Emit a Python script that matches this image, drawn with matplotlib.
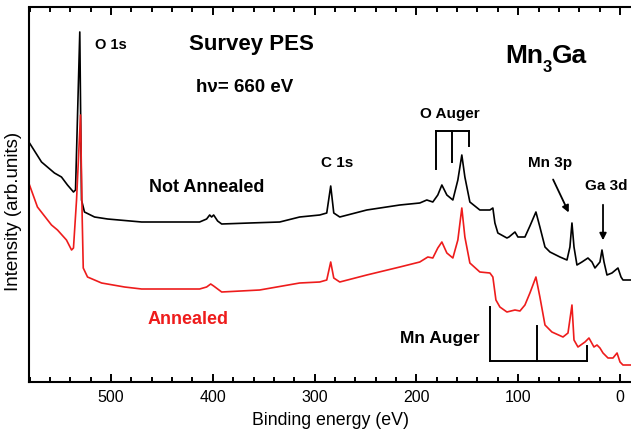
import matplotlib
matplotlib.use("Agg")
import matplotlib.pyplot as plt
from matplotlib.ticker import MultipleLocator

plt.rcParams['font.family'] = ['Liberation Sans', 'DejaVu Sans']

# Not Annealed (black)
energy_na = [580.1, 568.3, 555.6, 548.7, 542.8, 536.9, 534.9, 530.7, 529.0, 526.1,
             516.2, 503.4, 470.0, 413.0, 406.1, 403.1, 401.2, 399.2, 395.3, 391.3,
             363.8, 334.3, 314.7, 295.0, 288.1, 284.2, 281.2, 275.3, 248.8, 216.3,
             196.7, 189.8, 183.9, 179.0, 175.0, 170.1, 164.2, 159.3, 155.4, 152.4,
             147.5, 137.7, 127.8, 124.9, 122.9, 120.0, 111.1, 109.1, 103.2, 100.3,
             93.4, 88.5, 82.6, 78.7, 73.7, 68.8, 59.0, 52.1, 49.2, 47.2,
             45.2, 42.3, 37.4, 31.5, 27.5, 24.6, 19.7, 17.7, 15.7, 12.8,
             7.9, 2.0, -1.0, -2.9, -10.8]
intensity_na = [238, 219, 208, 204, 196, 189, 191, 349, 181, 169,
                164, 162, 159, 159, 162, 166, 164, 166, 160, 157,
                158, 159, 164, 166, 168, 195, 168, 164, 171, 176,
                178, 181, 179, 186, 196, 186, 181, 201, 226, 204,
                179, 171, 171, 173, 158, 148, 143, 144, 149, 144,
                144, 155, 169, 154, 134, 129, 124, 121, 134, 158,
                134, 116, 119, 123, 119, 113, 119, 131, 119, 106,
                108, 113, 104, 101, 101]

# Annealed (red)
energy_an = [580.1, 572.3, 558.5, 552.6, 543.8, 538.8, 536.9, 533.9, 530.0, 528.3,
             527.3, 523.1, 509.3, 486.7, 470.0, 413.0, 406.1, 402.1, 399.2, 391.3,
             354.0, 314.7, 295.0, 288.1, 284.2, 281.2, 275.3, 248.8, 216.3, 196.7,
             188.8, 183.9, 179.0, 175.0, 170.1, 164.2, 159.3, 155.4, 152.4, 147.5,
             137.7, 127.8, 124.9, 121.9, 118.0, 111.1, 103.2, 98.3, 93.4, 88.5,
             82.6, 78.7, 73.7, 66.9, 56.0, 51.1, 47.2, 45.2, 41.3, 34.4,
             30.5, 25.6, 22.6, 19.7, 16.7, 11.8, 6.9, 2.9, 0.0, -2.9, -10.8]
intensity_an = [196, 174, 156, 151, 141, 131, 133, 181, 266, 161,
                113, 104, 98, 94, 92, 92, 94, 97, 95, 89,
                91, 98, 99, 101, 119, 103, 99, 106, 114, 119,
                124, 123, 133, 139, 128, 123, 141, 173, 144, 118,
                109, 108, 104, 81, 74, 69, 71, 70, 76, 88,
                104, 84, 56, 49, 44, 48, 76, 41, 34, 39,
                43, 34, 36, 33, 28, 23, 23, 28, 19, 16, 16]

# Marker brackets
o_auger_lines = [181.0, 165.0, 148.5]
o_auger_tops = [212, 219, 235]
mn_auger_lines = [127.8, 81.6, 32.4]
mn_auger_tops = [74, 55, 35]

fig = plt.figure(figsize=(6.31, 4.36), dpi=100)
W, H = 631, 436
ax = fig.add_axes([29.3 / W, 54.5 / H, (W - 29.3) / W, 374 / H])

ax.plot(energy_na, intensity_na, color='black', lw=1.2)
ax.plot(energy_an, intensity_an, color='#ee1c1c', lw=1.2)

ax.set_xlim(580.3, -10.8)
ax.set_ylim(-0.5, 373.5)
ax.xaxis.set_major_locator(MultipleLocator(100))
ax.xaxis.set_minor_locator(MultipleLocator(20))
ax.tick_params(axis='x', which='both', direction='in', top=True, bottom=True,
               labelsize=11.5, width=1.4, pad=6)
ax.tick_params(axis='x', which='major', length=6)
ax.tick_params(axis='x', which='minor', length=3.5)
ax.set_yticks([])
for s in ['left', 'bottom', 'top']:
    ax.spines[s].set_linewidth(1.5)
ax.spines['right'].set_visible(False)

ax.set_xlabel('Binding energy (eV)', fontsize=12.8, labelpad=5)
ax.text((14 - 29.3) / (W - 29.3), (381.5 - 211) / 374, 'Intensity (arb.units)',
        rotation=90, ha='center', va='center', fontsize=13.5, transform=ax.transAxes)

# brackets
bl = 1.4
ax.plot([o_auger_lines[0], o_auger_lines[-1]], [250, 250], color='black', lw=bl)
for e, t in zip(o_auger_lines, o_auger_tops):
    ax.plot([e, e], [250, t], color='black', lw=bl)
ax.plot([mn_auger_lines[0], mn_auger_lines[-1]], [20, 20], color='black', lw=bl)
for e, t in zip(mn_auger_lines, mn_auger_tops):
    ax.plot([e, e], [20, t], color='black', lw=bl)

# arrows
ax.annotate('', xy=(49.2, 166), xytext=(66.9, 204),
            arrowprops=dict(arrowstyle='-|>', color='black', lw=1.3, mutation_scale=10))
ax.annotate('', xy=(16.7, 138), xytext=(16.7, 179),
            arrowprops=dict(arrowstyle='-|>', color='black', lw=1.3, mutation_scale=10))

bold = dict(fontweight='bold', ha='center', va='center')
ax.text(500.5, 336, 'O 1s', fontsize=10.5, **bold)
ax.text(361.9, 337, 'Survey PES', fontsize=16, **bold)
ax.text(368.7, 294, 'h\u03bd= 660 eV', fontsize=13.5, **bold)
# Mn3Ga with lowered subscript
ax.text(113.1, 318, 'Mn', fontsize=19, fontweight='bold', ha='left', va='baseline')
ax.text(75.9, 309, '3', fontsize=12, fontweight='bold', ha='left', va='baseline')
ax.text(67.3, 318, 'Ga', fontsize=19, fontweight='bold', ha='left', va='baseline')
ax.text(406, 194, 'Not Annealed', fontsize=13, **bold)
ax.text(167.2, 267, 'O Auger', fontsize=11, **bold)
ax.text(278.3, 218, 'C 1s', fontsize=11, **bold)
ax.text(68.8, 218, 'Mn 3p', fontsize=11, **bold)
ax.text(13.8, 195, 'Ga 3d', fontsize=11, **bold)
ax.text(424.8, 62, 'Annealed', fontsize=13, color='#ee1c1c', **bold)
ax.text(177, 43, 'Mn Auger', fontsize=12.5, **bold)

fig.savefig('out.png', dpi=100)
